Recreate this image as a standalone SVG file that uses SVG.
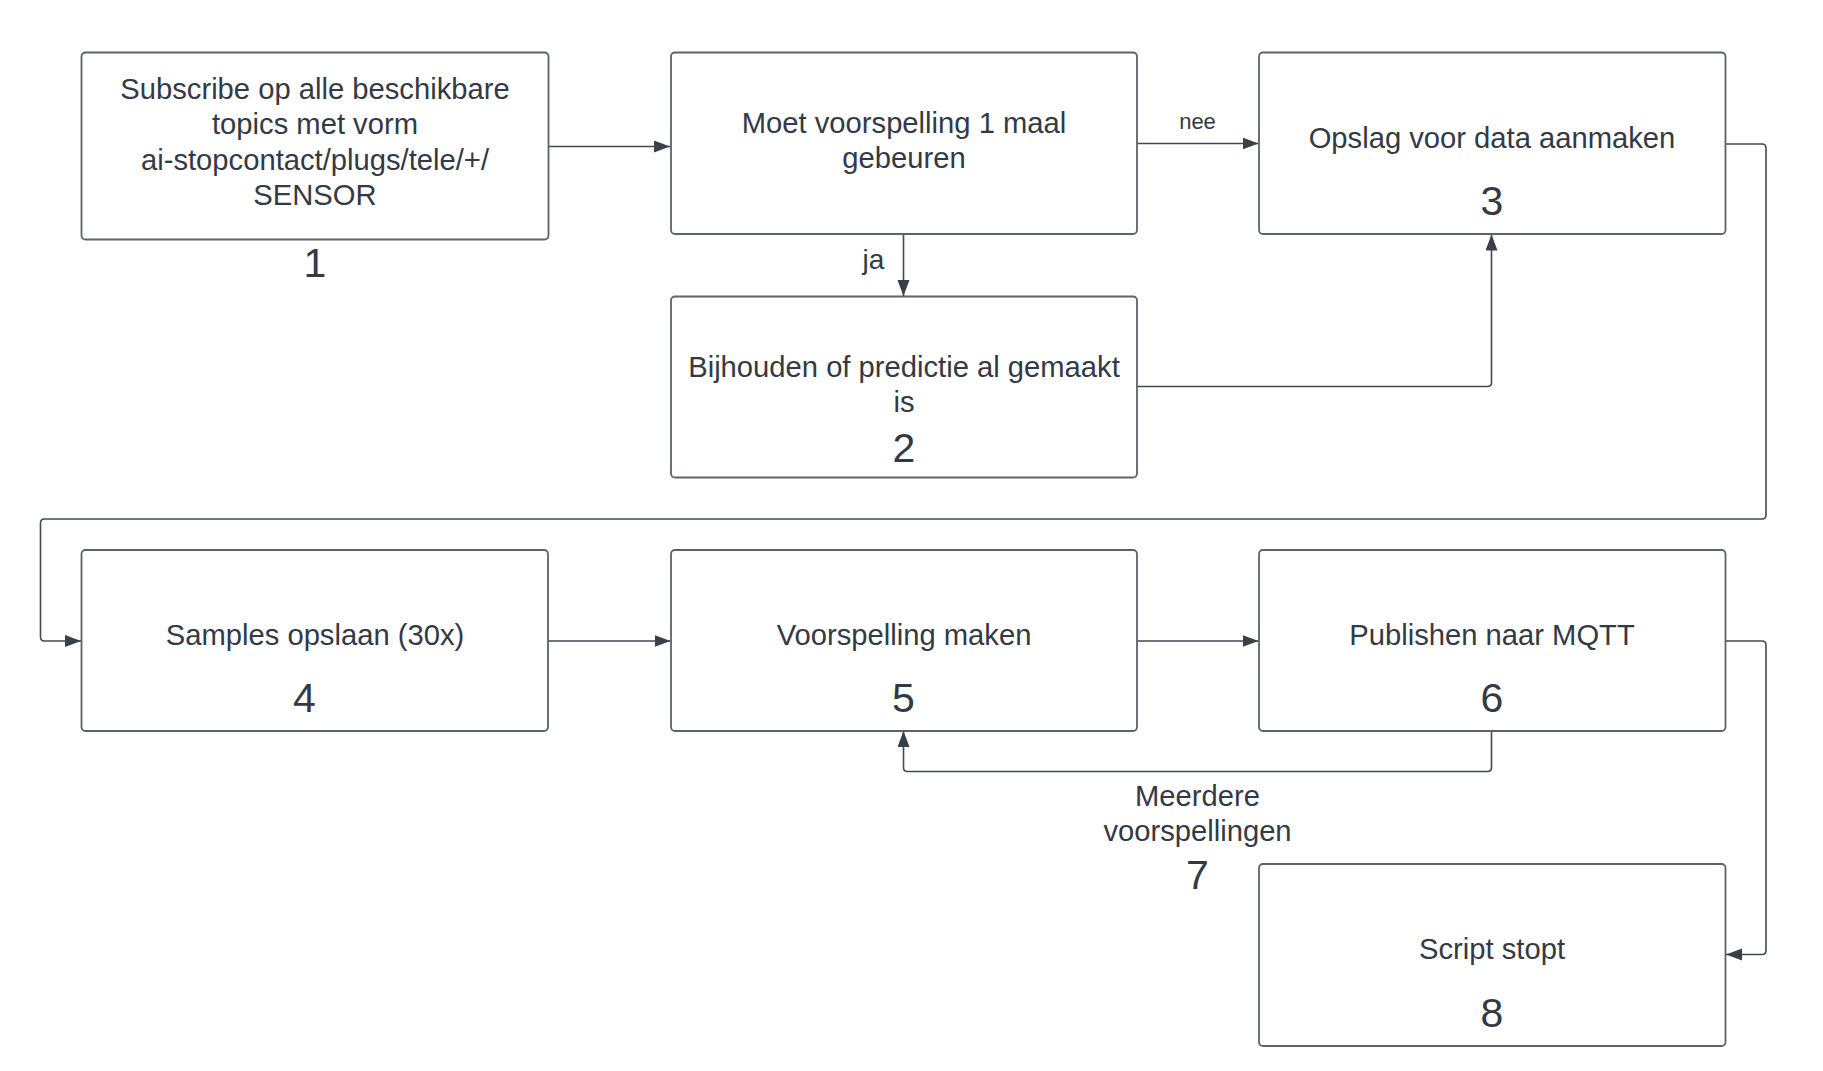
<svg xmlns="http://www.w3.org/2000/svg" width="1823" height="1071" viewBox="0 0 1823 1071">
<style>
.box{fill:#ffffff;stroke:#5d6269;stroke-width:1.8}
.t{font-family:"Liberation Sans",Arial,sans-serif;font-size:29.2px;fill:#333a44;text-anchor:middle}
.n{font-family:"Liberation Sans",Arial,sans-serif;font-size:41px;fill:#333a44;text-anchor:middle}
.lbl{font-family:"Liberation Sans",Arial,sans-serif;fill:#333a44;text-anchor:middle}
.c{fill:none;stroke:#434951;stroke-width:1.6}
</style>
<defs>
<marker id="ah" markerUnits="userSpaceOnUse" markerWidth="17" markerHeight="13" refX="16" refY="6" orient="auto">
<path d="M0,0 L16,6 L0,12 z" fill="#3a4048"/>
</marker>
</defs>
<rect width="1823" height="1071" fill="#ffffff"/>
<g id="connectors">
<path class="c" d="M548.5,146.5 H670" marker-end="url(#ah)"/>
<path class="c" d="M1137,143.5 H1258.5" marker-end="url(#ah)"/>
<path class="c" d="M903.5,234.5 V296" marker-end="url(#ah)"/>
<path class="c" d="M1137,386.5 H1487.5 Q1491.5,386.5 1491.5,382.5 V234.5" marker-end="url(#ah)"/>
<path class="c" d="M1725.5,144 H1762 Q1766,144 1766,148 V515 Q1766,519 1762,519 H44.5 Q40.5,519 40.5,523 V637 Q40.5,641 44.5,641 H81" marker-end="url(#ah)"/>
<path class="c" d="M548,641 H670.5" marker-end="url(#ah)"/>
<path class="c" d="M1137,641 H1258.5" marker-end="url(#ah)"/>
<path class="c" d="M1491.5,731 V767.5 Q1491.5,771.5 1487.5,771.5 H907.5 Q903.5,771.5 903.5,767.5 V731" marker-end="url(#ah)"/>
<path class="c" d="M1725.5,641 H1762 Q1766,641 1766,645 V950.5 Q1766,954.5 1762,954.5 H1726" marker-end="url(#ah)"/>
<text class="lbl" x="1197.5" y="129" font-size="22">nee</text>
<text class="lbl" x="873.5" y="269" font-size="28">ja</text>
<g id="label7">
<text class="t" x="1197.5" y="805.5">Meerdere</text>
<text class="t" x="1197.5" y="841">voorspellingen</text>
<text class="n" x="1197.5" y="889">7</text>
</g>
</g>
<g id="node1">
<rect class="box" x="81.5" y="52.5" width="467" height="187" rx="4"/>
<text class="t" x="315" y="98.5">Subscribe op alle beschikbare</text>
<text class="t" x="315" y="134">topics met vorm</text>
<text class="t" x="315" y="169.5">ai-stopcontact/plugs/tele/+/</text>
<text class="t" x="315" y="204.5">SENSOR</text>
<text class="n" x="315" y="277">1</text>
</g>
<g id="node_moet">
<rect class="box" x="671" y="52.5" width="466" height="181.5" rx="4"/>
<text class="t" x="904" y="133">Moet voorspelling 1 maal</text>
<text class="t" x="904" y="168">gebeuren</text>
</g>
<g id="node2">
<rect class="box" x="671" y="296.5" width="466" height="181" rx="4"/>
<text class="t" x="904" y="376.5">Bijhouden of predictie al gemaakt</text>
<text class="t" x="904" y="411.5">is</text>
<text class="n" x="904" y="461.5">2</text>
</g>
<g id="node3">
<rect class="box" x="1259" y="52.5" width="466.5" height="181.5" rx="4"/>
<text class="t" x="1492" y="147.5">Opslag voor data aanmaken</text>
<text class="n" x="1492" y="215">3</text>
</g>
<g id="node4">
<rect class="box" x="81.5" y="550" width="466.5" height="181" rx="4"/>
<text class="t" x="315" y="645">Samples opslaan (30x)</text>
<text class="n" x="304.5" y="712">4</text>
</g>
<g id="node5">
<rect class="box" x="671" y="550" width="466" height="181" rx="4"/>
<text class="t" x="904" y="645">Voorspelling maken</text>
<text class="n" x="903.5" y="712">5</text>
</g>
<g id="node6">
<rect class="box" x="1259" y="550" width="466.5" height="181" rx="4"/>
<text class="t" x="1492" y="645">Publishen naar MQTT</text>
<text class="n" x="1492" y="712">6</text>
</g>
<g id="node8">
<rect class="box" x="1259" y="864" width="466.5" height="182" rx="4"/>
<text class="t" x="1492" y="959">Script stopt</text>
<text class="n" x="1492" y="1027">8</text>
</g>
</svg>
